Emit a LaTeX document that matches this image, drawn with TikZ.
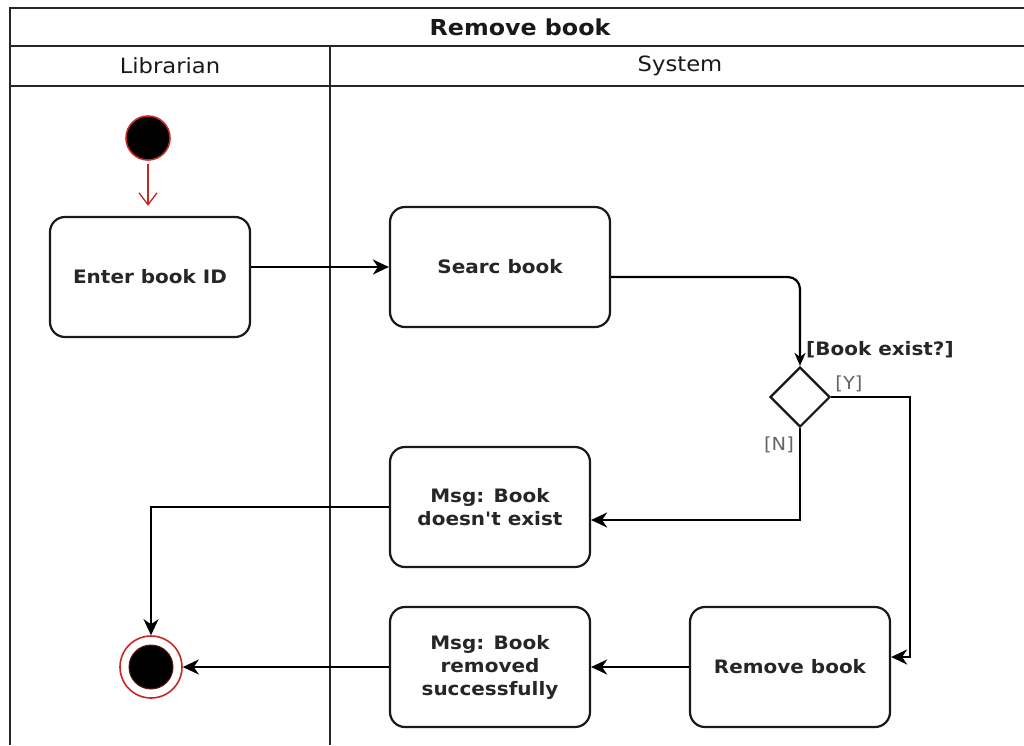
\documentclass[tikz,border=0pt]{standalone}
\usepackage{fontspec}
\setmainfont{DejaVu Sans}[FakeStretch=1.08,Ligatures=TeXOff]
\usetikzlibrary{arrows.meta,shapes.geometric,calc}
\definecolor{initred}{HTML}{C62828}
\begin{document}
\begin{tikzpicture}[x=1pt,y=-1pt,
  poolline/.style={draw=black!85,line width=2.2pt},
  hdr/.style={font=\fontsize{21}{24}\selectfont,text=black!90,inner sep=0pt},
  act/.style={draw=black!90,line width=2.2pt,rounded corners=15pt,
    minimum width=200pt,minimum height=120pt,align=center,inner sep=0pt,
    font=\fontsize{18.5}{23}\selectfont\bfseries,text=black!85},
  flow/.style={draw=black,line width=2.2pt,
    -{Stealth[length=16pt,width=15pt,inset=5pt]}},
  guard/.style={font=\fontsize{18}{22}\selectfont,text=black!60,inner sep=0pt},
]
\useasboundingbox (0,0) rectangle (1024,745);

% pool frame and lanes
\draw[poolline] (1024,8) -- (10,8) -- (10,745);
\draw[poolline] (10,46) -- (1024,46);
\draw[poolline] (10,86) -- (1024,86);
\draw[poolline] (330,46) -- (330,745);

\node[hdr,font=\fontsize{22}{24}\selectfont\bfseries] (title) at (520,27) {Remove book};
\node[hdr] (lib) at (170,66) {Librarian};
\node[hdr] (sys) at (680,66) {System};

% start and end
\node[circle,fill=black,draw=initred,line width=1.6pt,minimum size=44pt,inner sep=0pt] (init) at (148,138) {};
\node[circle,fill=white,draw=initred,line width=1.6pt,minimum size=62pt,inner sep=0pt] (final) at (151,667) {};
\node[circle,fill=black,draw=initred!50!black,line width=1pt,minimum size=44pt,inner sep=0pt] (finaldot) at (final) {};

% actions
\node[act] (enter) at (150,277) {Enter book ID};
\node[act,minimum width=220pt] (search) at (500,267) {Searc book};
\node[diamond,draw=black!90,line width=2.2pt,fill=white,minimum width=60pt,minimum height=60pt,inner sep=0pt] (dec) at (800,397) {};
\node[act] (nomsg) at (490,507) {Msg: Book\\doesn't exist};
\node[act] (remove) at (790,667) {Remove book};
\node[act] (okmsg) at (490,667) {Msg: Book\\removed\\successfully};

% labels of the decision
\node[font=\fontsize{18.5}{22}\selectfont\bfseries,text=black!85,anchor=west,inner sep=0pt] (q) at (806,350) {[Book exist?]};
\node[guard] (yes) at (849,384) {[Y]};
\node[guard] (no) at (779,445) {[N]};

% flows
\draw[initred,line width=1.3pt,-{Straight Barb[length=12pt,width=18pt]},shorten <=3pt,shorten >=10pt] (init.south) -- (enter.north -| init);
\draw[flow] (enter.east |- search.west) -- (search.west);
\draw[flow,rounded corners=12pt,-{Stealth[length=13pt,width=11pt,inset=4pt]}] ($(search.east)+(0,10)$) -| (dec.north);
\coordinate (ybend) at (910,397);
\draw[flow] (dec.east) -- (ybend) |- ($(remove.east)+(0,-10)$);
\draw[flow] (dec.south) |- ($(nomsg.east)+(0,13)$);
\draw[flow] (nomsg.west) -| (final.north);
\draw[flow] (remove.west) -- (okmsg.east);
\draw[flow] (okmsg.west) -- (final.east);
\end{tikzpicture}
\end{document}
